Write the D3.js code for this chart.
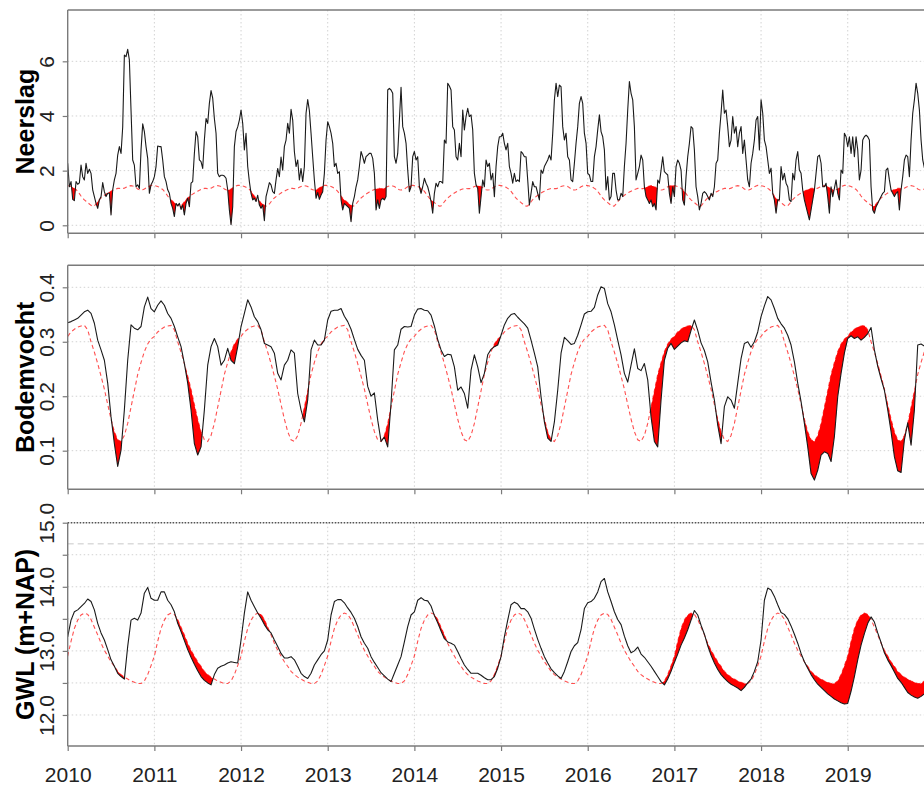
<!DOCTYPE html>
<html><head><meta charset="utf-8">
<script src="https://cdn.jsdelivr.net/npm/d3@7"></script>
<style>
body{margin:0;background:#fff;}
svg{display:block;font-family:"Liberation Sans",Arial,Helvetica,sans-serif;}
</style></head><body>
<svg id="chart" width="924" height="785"></svg>
<script>
// ---------------- DATA ----------------
const years = [2010,2011,2012,2013,2014,2015,2016,2017,2018,2019];
const startYear = 2010;
const neerslagPerYear = 52;   // weekly values
const bodemPerYear = 26;      // two-weekly values
const gwlPerYear = 26;

const neerslag = [
2.27,1.41,1.60,0.95,0.90,1.60,1.50,1.55,2.20,1.78,1.66,2.27,1.90,2.05,1.90,1.30,1.05,0.80,0.62,0.93,
1.05,1.56,1.23,1.05,1.17,1.17,0.38,1.30,1.66,1.90,2.57,2.88,2.63,3.60,6.23,6.17,6.44,6.05,4.20,2.39,
2.20,1.41,1.48,1.35,2.76,3.71,3.43,2.88,2.45,1.17,1.48,1.60,
1.78,2.15,2.90,2.88,2.88,2.39,1.78,1.60,1.30,1.17,0.80,0.62,0.32,0.80,0.71,0.80,0.58,0.74,0.38,0.80,
0.99,0.68,1.54,1.60,2.63,3.43,3.24,2.39,2.33,2.08,3.12,3.91,3.73,4.46,4.93,4.65,3.91,3.37,1.90,1.78,
1.83,1.83,1.80,1.72,1.30,0.56,0.02,0.68,2.88,3.43,3.60,3.85,
4.22,3.73,2.76,3.37,2.15,1.60,1.17,0.93,0.99,0.87,1.10,0.74,0.62,0.74,0.17,1.05,1.30,1.56,1.48,1.23,
1.17,1.66,2.08,1.78,2.50,2.02,2.88,3.12,3.73,3.37,4.24,3.85,2.70,2.15,2.39,1.66,2.08,1.60,2.15,4.10,
4.60,4.20,3.37,2.50,1.66,0.99,1.20,0.95,1.11,1.23,1.90,3.12,
3.79,3.61,3.37,3.00,2.15,2.27,1.90,1.96,0.93,0.56,0.80,0.74,0.68,0.62,0.13,0.80,1.05,1.41,1.66,2.15,
2.70,2.51,2.27,2.51,2.57,2.63,2.63,2.45,1.90,0.56,0.93,0.62,0.93,0.99,0.93,1.05,4.95,5.01,4.95,4.83,
2.51,2.27,2.63,3.85,5.05,3.61,3.37,3.00,2.02,1.23,1.41,2.51,
2.70,2.39,2.51,1.41,1.17,1.41,1.72,1.54,1.41,1.17,0.87,0.44,1.17,1.54,1.41,1.60,1.60,1.54,3.12,3.00,
5.20,5.10,4.95,3.61,3.49,2.51,2.39,3.00,2.51,4.22,3.49,3.98,4.28,3.98,4.04,3.49,1.90,1.48,1.35,0.44,
1.05,1.66,1.41,2.39,2.15,2.27,1.66,1.90,1.05,2.15,2.88,3.24,
3.24,3.37,3.00,2.76,3.00,2.15,1.90,1.54,1.90,1.60,1.66,1.60,2.70,2.63,2.51,2.51,1.66,0.74,1.17,1.60,
1.41,1.41,1.17,0.93,2.02,1.90,2.15,2.27,2.39,2.57,2.39,3.37,4.59,5.20,4.71,5.13,5.07,3.61,3.12,3.37,
2.51,2.39,1.66,1.60,2.27,3.00,3.61,4.46,4.71,4.46,3.37,3.00,
1.90,1.84,1.60,1.60,2.51,2.88,3.49,4.04,3.43,3.24,2.76,1.29,1.78,0.93,1.05,1.90,1.90,1.29,0.93,0.93,
1.17,1.05,2.15,3.00,4.22,5.26,4.83,4.59,3.61,1.66,1.90,2.15,2.57,2.39,1.41,1.05,0.93,0.80,0.93,0.68,
0.80,0.56,1.66,1.54,2.02,2.51,1.96,1.90,1.84,1.17,0.80,1.41,
1.05,2.15,2.39,2.27,2.02,0.93,0.74,1.78,2.51,3.00,3.61,3.55,2.76,1.41,1.05,0.56,0.80,1.17,1.23,1.17,
1.05,0.93,1.17,1.05,1.41,2.27,2.39,3.37,4.10,4.95,4.10,4.22,3.61,2.88,3.12,3.98,3.37,3.61,2.88,3.37,
3.61,2.63,3.12,2.39,1.66,1.41,2.27,2.63,3.12,3.85,3.98,2.76,
4.59,4.10,3.12,2.88,2.39,1.90,2.09,1.17,0.93,0.44,0.93,0.93,2.15,1.66,1.90,1.54,1.41,0.93,0.87,1.90,
1.66,2.39,2.70,2.02,1.90,1.29,0.93,0.68,0.44,0.20,0.56,0.93,1.29,1.90,2.51,2.57,2.27,1.41,1.41,1.54,
1.05,0.44,1.41,1.05,1.35,1.66,1.17,0.93,2.02,1.90,3.37,3.24,
2.88,3.24,2.63,3.24,2.51,3.24,2.76,1.66,2.02,3.12,3.24,3.30,3.24,3.12,1.41,0.56,0.44,0.68,0.80,0.93,
1.05,1.17,1.23,2.02,2.09,1.66,1.29,1.17,1.05,1.17,1.23,0.56,1.29,1.78,2.39,2.57,2.51,1.78,3.12,4.10,
4.59,5.20,4.83,4.22,3.12,2.39,2.10,2.30,1.90,2.40,2.90,2.60,
2.20];

const neerslagNormaal = [
1.45,1.44,1.42,1.39,1.35,1.31,1.24,1.16,1.07,0.99,0.93,0.88,0.83,0.78,0.73,0.70,0.71,0.78,0.86,0.94,
1.00,1.05,1.10,1.14,1.18,1.22,1.25,1.28,1.31,1.33,1.35,1.35,1.34,1.34,1.36,1.39,1.42,1.44,1.45,1.44,
1.42,1.38,1.33,1.30,1.29,1.30,1.33,1.37,1.41,1.44,1.46,1.46];

const bodemvocht = [
0.335,0.337,0.340,0.343,0.349,0.355,0.358,0.352,0.334,0.303,0.285,0.266,0.224,0.162,0.113,0.071,0.101,0.175,0.266,0.331,0.325,0.322,0.328,0.364,0.382,0.361,
0.355,0.367,0.375,0.367,0.352,0.343,0.328,0.309,0.291,0.260,0.224,0.175,0.113,0.092,0.107,0.175,0.257,0.291,0.306,0.291,0.257,0.266,0.288,0.266,0.260,0.291,
0.328,0.352,0.377,0.364,0.346,0.337,0.322,0.297,0.294,0.291,0.279,0.242,0.230,0.257,0.266,0.285,0.279,0.205,0.175,0.153,0.193,0.285,0.303,0.294,0.294,0.303,
0.340,0.356,0.358,0.358,0.361,0.347,0.337,0.323,0.304,0.286,0.275,0.266,0.218,0.200,0.206,0.156,0.117,0.125,0.107,0.187,0.285,0.294,0.323,0.328,0.327,0.328,
0.349,0.360,0.361,0.358,0.357,0.349,0.329,0.304,0.285,0.273,0.277,0.276,0.254,0.211,0.217,0.205,0.178,0.248,0.276,0.254,0.225,0.242,0.276,0.286,0.291,0.294,
0.312,0.331,0.343,0.350,0.352,0.345,0.339,0.333,0.325,0.303,0.279,0.254,0.199,0.153,0.123,0.117,0.153,0.211,0.279,0.308,0.302,0.295,0.297,0.312,0.331,0.351,
0.355,0.356,0.363,0.386,0.401,0.398,0.370,0.355,0.331,0.303,0.276,0.242,0.226,0.257,0.287,0.251,0.247,0.260,0.230,0.162,0.117,0.107,0.193,0.266,0.288,0.297,
0.286,0.292,0.298,0.302,0.300,0.321,0.340,0.321,0.298,0.284,0.263,0.226,0.193,0.147,0.113,0.181,0.199,0.193,0.178,0.224,0.269,0.297,0.300,0.290,0.300,0.318,
0.346,0.366,0.383,0.377,0.361,0.343,0.333,0.325,0.312,0.294,0.263,0.224,0.190,0.150,0.107,0.058,0.046,0.064,0.092,0.098,0.095,0.080,0.126,0.199,0.242,0.279,
0.306,0.311,0.306,0.309,0.303,0.308,0.315,0.326,0.285,0.255,0.232,0.211,0.175,0.135,0.089,0.063,0.060,0.120,0.151,0.110,0.175,0.294,0.296,0.292,0.298,0.305,
0.312];

const bodemvochtNormaal = [
0.310,0.318,0.323,0.327,0.329,0.330,0.322,0.300,0.281,0.260,0.237,0.213,0.185,0.158,0.135,0.120,0.117,0.128,0.150,0.180,
0.210,0.240,0.262,0.282,0.296,0.305];

const gwl = [
13.22,13.48,13.61,13.64,13.69,13.74,13.81,13.77,13.64,13.43,13.28,13.17,13.02,12.86,12.76,12.65,12.60,12.56,13.07,13.48,13.51,13.48,13.59,13.90,13.99,13.82,
13.79,13.79,13.92,13.92,13.79,13.72,13.61,13.43,13.30,13.16,13.02,12.90,12.79,12.69,12.60,12.54,12.50,12.47,12.63,12.73,12.76,12.78,12.81,12.83,12.82,12.81,
13.17,13.59,13.92,13.79,13.69,13.59,13.51,13.41,13.33,13.28,13.17,13.07,12.96,12.89,12.89,12.91,12.86,12.76,12.65,12.60,12.57,12.65,12.78,12.86,12.94,13.00,
13.17,13.56,13.77,13.80,13.80,13.75,13.67,13.60,13.51,13.38,13.22,13.12,13.04,12.91,12.82,12.74,12.66,12.61,12.56,12.52,12.65,12.78,12.91,13.14,13.38,13.56,
13.61,13.79,13.83,13.79,13.78,13.70,13.55,13.44,13.31,13.19,13.14,13.12,13.09,12.99,12.88,12.78,12.71,12.65,12.65,12.65,12.62,12.58,12.55,12.55,12.60,12.73,
12.91,13.22,13.48,13.72,13.76,13.73,13.66,13.66,13.61,13.51,13.34,13.18,13.04,12.91,12.81,12.72,12.66,12.61,12.57,12.68,12.83,12.99,13.08,13.13,13.33,13.66,
13.75,13.77,13.82,13.92,14.08,14.13,13.92,13.77,13.61,13.49,13.41,13.23,13.08,12.97,13.00,13.06,12.95,12.90,12.83,12.76,12.68,12.60,12.52,12.47,12.56,12.68,
12.82,12.95,13.09,13.20,13.33,13.48,13.63,13.56,13.40,13.26,13.08,12.93,12.81,12.71,12.63,12.57,12.52,12.48,12.45,12.42,12.38,12.43,12.50,12.56,12.68,12.83,
13.17,13.79,13.98,13.95,13.85,13.72,13.60,13.57,13.50,13.39,13.26,13.12,12.96,12.83,12.73,12.63,12.55,12.48,12.43,12.38,12.33,12.29,12.25,12.22,12.19,12.17,
12.18,12.37,12.60,12.86,13.09,13.27,13.43,13.53,13.45,13.28,13.13,12.97,12.86,12.77,12.67,12.57,12.51,12.43,12.35,12.31,12.28,12.26,12.29,12.33,12.40,12.55,
12.75];

const gwlNormaal = [
12.92,13.15,13.35,13.48,13.56,13.59,13.57,13.49,13.37,13.25,13.12,13.01,12.92,12.83,12.76,12.68,12.63,12.59,12.56,12.53,
12.51,12.49,12.49,12.53,12.63,12.77];

const maaiveld = 14.67;   // dashed reference level in the GWL panel

const labels = ["Neerslag", "Bodemvocht", "GWL (m+NAP)"];
const neerslagTicks = [0, 2, 4, 6];
const bodemTicks = [0.1, 0.2, 0.3, 0.4];
const gwlTicks = [12.0, 12.5, 13.0, 13.5, 14.0, 14.5, 15.0];

// ---------------- CHART ----------------
const svg = d3.select("#chart");
const W = 924;
const x = d3.scaleLinear().domain([2010, 2020]).range([67.7, 934.4]);

const panels = [
  {label: labels[0], obs: neerslag, norm: neerslagNormaal, per: neerslagPerYear,
   domain: [-0.293, 7.878], top: 10, bottom: 233.3, ticks: neerslagTicks,
   fmt: d => d3.format("d")(d), dottedTop: false},
  {label: labels[1], obs: bodemvocht, norm: bodemvochtNormaal, per: bodemPerYear,
   domain: [0.0291, 0.4404], top: 265.3, bottom: 489.3, ticks: bodemTicks,
   fmt: d => d3.format(".1f")(d), dottedTop: false},
  {label: labels[2], obs: gwl, norm: gwlNormaal, per: gwlPerYear,
   domain: [11.516, 15.0], top: 522.7, bottom: 746, ticks: gwlTicks,
   fmt: d => (Math.abs(d - Math.round(d)) < 1e-9 ? d3.format(".1f")(d) : ""), dottedTop: true}
];

panels.forEach((p, pi) => {
  const y = d3.scaleLinear().domain(p.domain).range([p.bottom, p.top]);
  const g = svg.append("g");
  const clipId = "clip" + pi;
  svg.append("clipPath").attr("id", clipId).append("rect")
    .attr("x", x(2010)).attr("y", p.top).attr("width", W - x(2010)).attr("height", p.bottom - p.top);

  // grid
  const grid = g.append("g").attr("stroke", "#d2d2d2").attr("stroke-width", 1)
    .attr("stroke-dasharray", "1.5,2.5");
  grid.selectAll(".vg").data(years.slice(1)).join("line")
    .attr("x1", d => x(d)).attr("x2", d => x(d)).attr("y1", p.top).attr("y2", p.bottom);
  grid.selectAll(".hg").data(p.ticks).join("line")
    .attr("x1", x(2010)).attr("x2", W).attr("y1", d => y(d)).attr("y2", d => y(d));

  if (pi === 2) {
    g.append("line").attr("x1", x(2010)).attr("x2", W)
      .attr("y1", y(maaiveld)).attr("y2", y(maaiveld))
      .attr("stroke", "#c8c8c8").attr("stroke-width", 1).attr("stroke-dasharray", "6,4");
  }

  // data points
  const pts = p.obs.map((v, i) => ({t: startYear + i / p.per, o: v, c: p.norm[i % p.per]}));

  // deficit area (obs below normal), with crossing points for the drawing
  const ap = [];
  for (let i = 0; i < pts.length; i++) {
    ap.push(pts[i]);
    if (i < pts.length - 1) {
      const d0 = pts[i].o - pts[i].c, d1 = pts[i+1].o - pts[i+1].c;
      if (d0 * d1 < 0) {
        const f = d0 / (d0 - d1);
        const t = pts[i].t + f * (pts[i+1].t - pts[i].t);
        const c = pts[i].c + f * (pts[i+1].c - pts[i].c);
        ap.push({t: t, o: c, c: c});
      }
    }
  }
  const plot = g.append("g").attr("clip-path", `url(#${clipId})`);

  plot.append("path").datum(pts)
    .attr("fill", "none").attr("stroke", "#ff3030").attr("stroke-opacity", 0.85)
    .attr("stroke-width", 1.1).attr("stroke-dasharray", "4,3")
    .attr("d", d3.line().x(d => x(d.t)).y(d => y(d.c)));

  plot.append("path").datum(ap)
    .attr("fill", "#ff0000").attr("stroke", "none")
    .attr("d", d3.area().x(d => x(d.t)).y0(d => y(d.c)).y1(d => y(Math.min(d.o, d.c))));

  plot.append("path").datum(pts)
    .attr("fill", "none").attr("stroke", "#1a1a1a").attr("stroke-width", 1.1)
    .attr("stroke-linejoin", "round")
    .attr("d", d3.line().x(d => x(d.t)).y(d => y(d.o)));

  // box
  const box = g.append("g").attr("stroke", "#7a7a7a").attr("stroke-width", 1.4).attr("fill", "none");
  box.append("line").attr("x1", x(2010)).attr("x2", x(2010)).attr("y1", p.top).attr("y2", p.bottom);
  box.append("line").attr("x1", x(2010)).attr("x2", W).attr("y1", p.bottom).attr("y2", p.bottom);
  if (p.dottedTop) {
    g.append("line").attr("x1", x(2010)).attr("x2", W).attr("y1", p.top).attr("y2", p.top)
      .attr("stroke", "#555").attr("stroke-width", 1.4).attr("stroke-dasharray", "1.5,1.5");
  } else {
    box.append("line").attr("x1", x(2010)).attr("x2", W).attr("y1", p.top).attr("y2", p.top);
  }

  // y axis
  const ya = g.append("g").attr("transform", `translate(${x(2010)},0)`)
    .call(d3.axisLeft(y).tickValues(p.ticks).tickSize(5).tickFormat(p.fmt));
  ya.select(".domain").remove();
  ya.selectAll(".tick line").attr("stroke", "#7a7a7a").attr("stroke-width", 1.2);
  ya.selectAll(".tick text")
    .attr("x", 0).attr("y", -14).attr("dy", 0)
    .attr("transform", "rotate(-90)")
    .style("text-anchor", "middle")
    .attr("fill", "#222").style("font-size", "21px")
    .style("font-family", '"Liberation Sans",Arial,sans-serif');

  // x axis
  const xa = g.append("g").attr("transform", `translate(0,${p.bottom})`)
    .call(d3.axisBottom(x).tickValues(years).tickSize(5)
      .tickFormat(pi === 2 ? d3.format("d") : () => ""));
  xa.select(".domain").remove();
  xa.selectAll(".tick line").attr("stroke", "#7a7a7a").attr("stroke-width", 1.2);
  xa.selectAll(".tick text").attr("y", 36).attr("dy", 0)
    .attr("fill", "#222").style("font-size", "21px")
    .style("font-family", '"Liberation Sans",Arial,sans-serif');

  // y label
  svg.append("text")
    .attr("transform", `translate(33.5,${(p.top + p.bottom) / 2}) rotate(-90)`)
    .attr("text-anchor", "middle")
    .style("font-size", "25px").style("font-weight", "bold").attr("fill", "#000")
    .text(p.label);
});
</script>
</body></html>
